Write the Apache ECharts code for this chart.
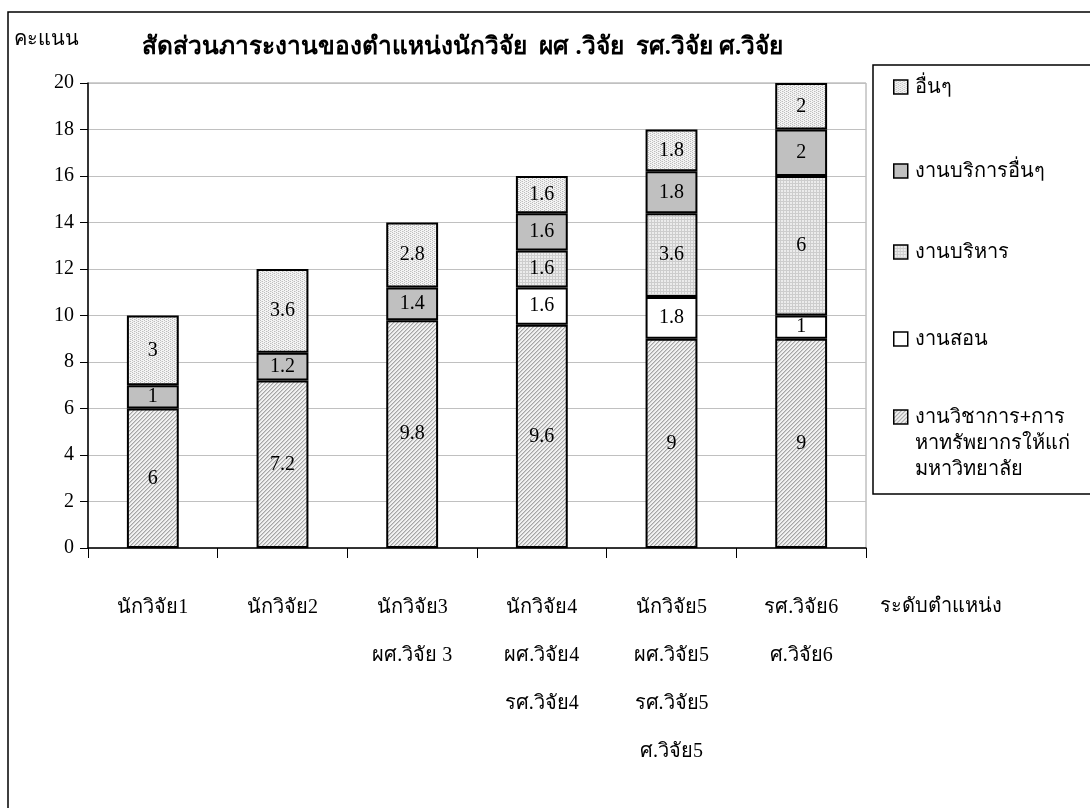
<!DOCTYPE html>
<html><head><meta charset="utf-8">
<script src="https://cdn.jsdelivr.net/npm/echarts@6/dist/echarts.min.js"></script>
<style>html,body{margin:0;padding:0;background:#fff}#c{width:1090px;height:808px}</style>
</head><body><div id="c"></div>
<script>
const categories = ['นักวิจัย1','นักวิจัย2','นักวิจัย3\nผศ.วิจัย 3','นักวิจัย4\nผศ.วิจัย4\nรศ.วิจัย4','นักวิจัย5\nผศ.วิจัย5\nรศ.วิจัย5\nศ.วิจัย5','รศ.วิจัย6\nศ.วิจัย6'];
const seriesNames = ['งานวิชาการ+การหาทรัพยากรให้แก่มหาวิทยาลัย','งานสอน','งานบริหาร','งานบริการอื่นๆ','อื่นๆ'];
const academic = [6, 7.2, 9.8, 9.6, 9, 9];
const teaching = [0, 0, 0, 1.6, 1.8, 1];
const admin = [0, 0, 0, 1.6, 3.6, 6];
const service = [1, 1.2, 1.4, 1.6, 1.8, 2];
const others = [3, 3.6, 2.8, 1.6, 1.8, 2];
const yTicks = [0, 2, 4, 6, 8, 10, 12, 14, 16, 18, 20];
const titleText = 'สัดส่วนภาระงานของตำแหน่งนักวิจัย  ผศ .วิจัย  รศ.วิจัย ศ.วิจัย';
const yName = 'คะแนน';
const xName = 'ระดับตำแหน่ง';
const legendNames = ['งานวิชาการ+การ\nหาทรัพยากรให้แก่\nมหาวิทยาลัย','งานสอน','งานบริหาร','งานบริการอื่นๆ','อื่นๆ'];

function pattern(kind){
  const c = document.createElement('canvas');
  const s = 4; c.width = s; c.height = s;
  const g = c.getContext('2d');
  g.fillStyle = '#fff'; g.fillRect(0,0,s,s);
  if (kind === 'diag') {
    g.fillStyle = '#f2f2f2'; g.fillRect(0,0,s,s);
    for (let i=0;i<s;i++){ g.fillStyle='#a6a6a6'; g.fillRect((s-1-i), i, 1, 1); g.fillStyle='#cfcfcf'; g.fillRect((s-i)%s, i, 1, 1); }
  } else if (kind === 'dots') {
    g.fillStyle='#f4f4f4'; g.fillRect(0,0,s,s);
    g.fillStyle='#bdbdbd';
    g.fillRect(0,0,1,1); g.fillRect(2,1,1,1); g.fillRect(0,2,1,1); g.fillRect(2,3,1,1);
    g.fillStyle='#dcdcdc'; g.fillRect(1,1,1,1); g.fillRect(3,3,1,1);
  } else if (kind === 'grid') {
    const t = 3; c.width = t; c.height = t;
    g.fillStyle='#ececec'; g.fillRect(0,0,t,t);
    g.fillStyle='#cdcdcd';
    g.fillRect(0,0,t,1); g.fillRect(0,0,1,t);
  }
  return {image: c, repeat: 'repeat'};
}
const fills = [pattern('diag'), '#ffffff', pattern('grid'), '#c0c0c0', pattern('dots')];
const values = [academic, teaching, admin, service, others];
const serif = '"Liberation Serif", "DejaVu Serif", serif';
const sans = 'Tahoma, "Noto Sans", "DejaVu Sans", sans-serif';

const series = seriesNames.map((n, i) => ({
  name: n, type: 'bar', stack: 'total', barWidth: '40%',
  data: values[i].map(v => v === 0 ? '-' : v),
  itemStyle: {color: fills[i], borderColor: '#000', borderWidth: 2},
  label: {show: true, position: 'inside', color: '#000', fontFamily: serif, fontSize: 20,
    formatter: p => (typeof p.value === 'number' && p.value) ? String(p.value) : ''},
  emphasis: {disabled: true}
}));

const legendCenters = [417, 339, 252, 171, 87];
const legends = seriesNames.map((n, i) => ({
  data: [n], left: 893, top: legendCenters[i] - (i === 0 ? 65 : 13), orient: 'vertical', padding: 0,
  itemWidth: 14, itemHeight: 14, itemGap: 0, selectedMode: false,
  icon: 'rect',
  itemStyle: {borderColor: '#000', borderWidth: 1.5},
  formatter: () => (i === 0 ? '\n\n' : '') + legendNames[i],
  textStyle: {fontFamily: sans, fontSize: 20, color: '#000', lineHeight: 26, padding: [0,0,0,2]}
}));

const chart = echarts.init(document.getElementById('c'), null, {renderer: 'canvas'});
chart.setOption({
  animation: false,
  backgroundColor: '#fff',
  title: {text: titleText, left: 142, top: 35, padding: 0,
    textStyle: {fontFamily: serif, fontWeight: 'bold', fontSize: 24.5, color: '#000'}},
  grid: {left: 88, right: 224, top: 83, bottom: 260, show: true, borderColor: '#a0a0a0', borderWidth: 1, containLabel: false},
  legend: legends,
  xAxis: {type: 'category', data: categories,
    axisLine: {lineStyle: {color: '#000', width: 1.5}},
    axisTick: {show: true, length: 10, lineStyle: {color: '#000'}},
    axisLabel: {color: '#000', fontFamily: serif, fontSize: 20, lineHeight: 48, margin: 36, interval: 0, verticalAlign: 'top'}
  },
  yAxis: {type: 'value', min: 0, max: 20, interval: 2,
    axisLine: {show: true, lineStyle: {color: '#000', width: 1.5}},
    axisTick: {show: true, length: 8, lineStyle: {color: '#000'}},
    splitLine: {lineStyle: {color: '#c0c0c0'}},
    axisLabel: {color: '#000', fontFamily: serif, fontSize: 20, margin: 14,
      formatter: v => yTicks.includes(v) ? String(v) : ''}
  },
  graphic: [
    {type: 'rect', shape: {x: 8, y: 12, width: 1100, height: 820}, style: {fill: 'none', stroke: '#000', lineWidth: 1.5}, z: -1},
    {type: 'rect', shape: {x: 873, y: 65, width: 240, height: 429}, style: {fill: '#fff', stroke: '#000', lineWidth: 1.5}, z: 0},
    {type: 'text', left: 14, top: 29, style: {text: yName, font: '20px ' + sans, fill: '#000'}},
    {type: 'text', left: 880, top: 597, style: {text: xName, font: '20px ' + serif, fill: '#000'}}
  ],
  series: series
});
</script></body></html>
